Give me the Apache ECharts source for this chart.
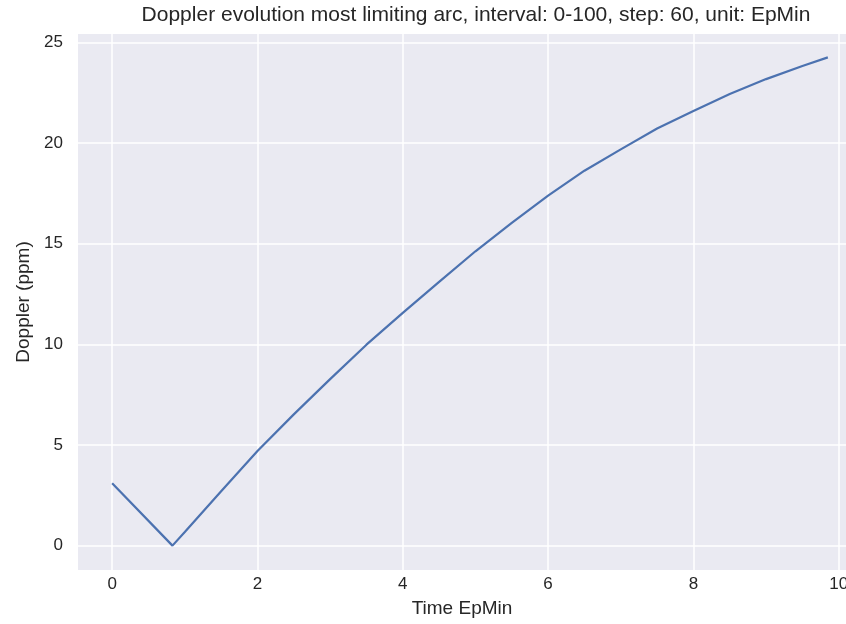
<!DOCTYPE html>
<html>
<head>
<meta charset="utf-8">
<script src="https://cdn.jsdelivr.net/npm/echarts@6/dist/echarts.min.js"></script>
<style>
  html, body { margin: 0; padding: 0; background: #fff; }
  #chart { width: 846px; height: 624px; }
</style>
</head>
<body>
<div id="chart"></div>
<script>
// values (time in EpMin, doppler in ppm)
var timeVals = [0, 0.83, 1.0, 1.5, 2.0, 2.5, 3.0, 3.5, 4.0, 4.5, 5.0, 5.5, 6.0, 6.5, 7.0, 7.5, 8.0, 8.5, 9.0, 9.5, 9.85];
var dopplerVals = [3.1, 0, 0.68, 2.7, 4.7, 6.52, 8.27, 9.98, 11.56, 13.1, 14.62, 16.03, 17.38, 18.62, 19.68, 20.72, 21.59, 22.43, 23.17, 23.82, 24.25];
var xTicks = [0, 2, 4, 6, 8, 10];
var yTicks = [0, 5, 10, 15, 20, 25];

var chart = echarts.init(document.getElementById('chart'));
var points = timeVals.map(function (t, i) { return [t, dopplerVals[i]]; });

var option = {
  animation: false,
  title: {
    text: 'Doppler evolution most limiting arc, interval: 0-100, step: 60, unit: EpMin',
    left: 471,
    textAlign: 'center',
    top: 0,
    textStyle: {
      fontFamily: 'Liberation Sans',
      fontSize: 21,
      fontWeight: 'normal',
      color: '#262626'
    }
  },
  grid: {
    left: 78,
    right: 0,
    top: 34,
    bottom: 54,
    outerBoundsMode: 'none',
    show: true,
    backgroundColor: '#EAEAF2',
    borderWidth: 0
  },
  xAxis: {
    type: 'value',
    min: -0.47,
    max: 10.1,
    name: 'Time EpMin',
    nameLocation: 'middle',
    nameGap: 29,
    nameTextStyle: { fontFamily: 'Liberation Sans', fontSize: 19, color: '#262626' },
    axisLine: { show: false },
    axisTick: { show: false, customValues: xTicks },
    axisLabel: {
      customValues: xTicks,
      margin: 6,
      fontFamily: 'Liberation Sans',
      fontSize: 17,
      color: '#262626'
    },
    splitLine: { show: true, lineStyle: { color: '#ffffff', width: 1.5 } }
  },
  yAxis: {
    type: 'value',
    min: -1.21,
    max: 25.41,
    name: 'Doppler (ppm)',
    nameLocation: 'middle',
    nameGap: 42,
    nameTextStyle: { fontFamily: 'Liberation Sans', fontSize: 19, color: '#262626' },
    axisLine: { show: false },
    axisTick: { show: false, customValues: yTicks },
    axisLabel: {
      customValues: yTicks,
      margin: 15,
      fontFamily: 'Liberation Sans',
      fontSize: 17,
      color: '#262626'
    },
    splitLine: { show: true, lineStyle: { color: '#ffffff', width: 1.5 } }
  },
  series: [{
    type: 'line',
    data: points,
    showSymbol: false,
    lineStyle: { color: '#4C72B0', width: 2.2 }
  }]
};
chart.setOption(option);
</script>
</body>
</html>
